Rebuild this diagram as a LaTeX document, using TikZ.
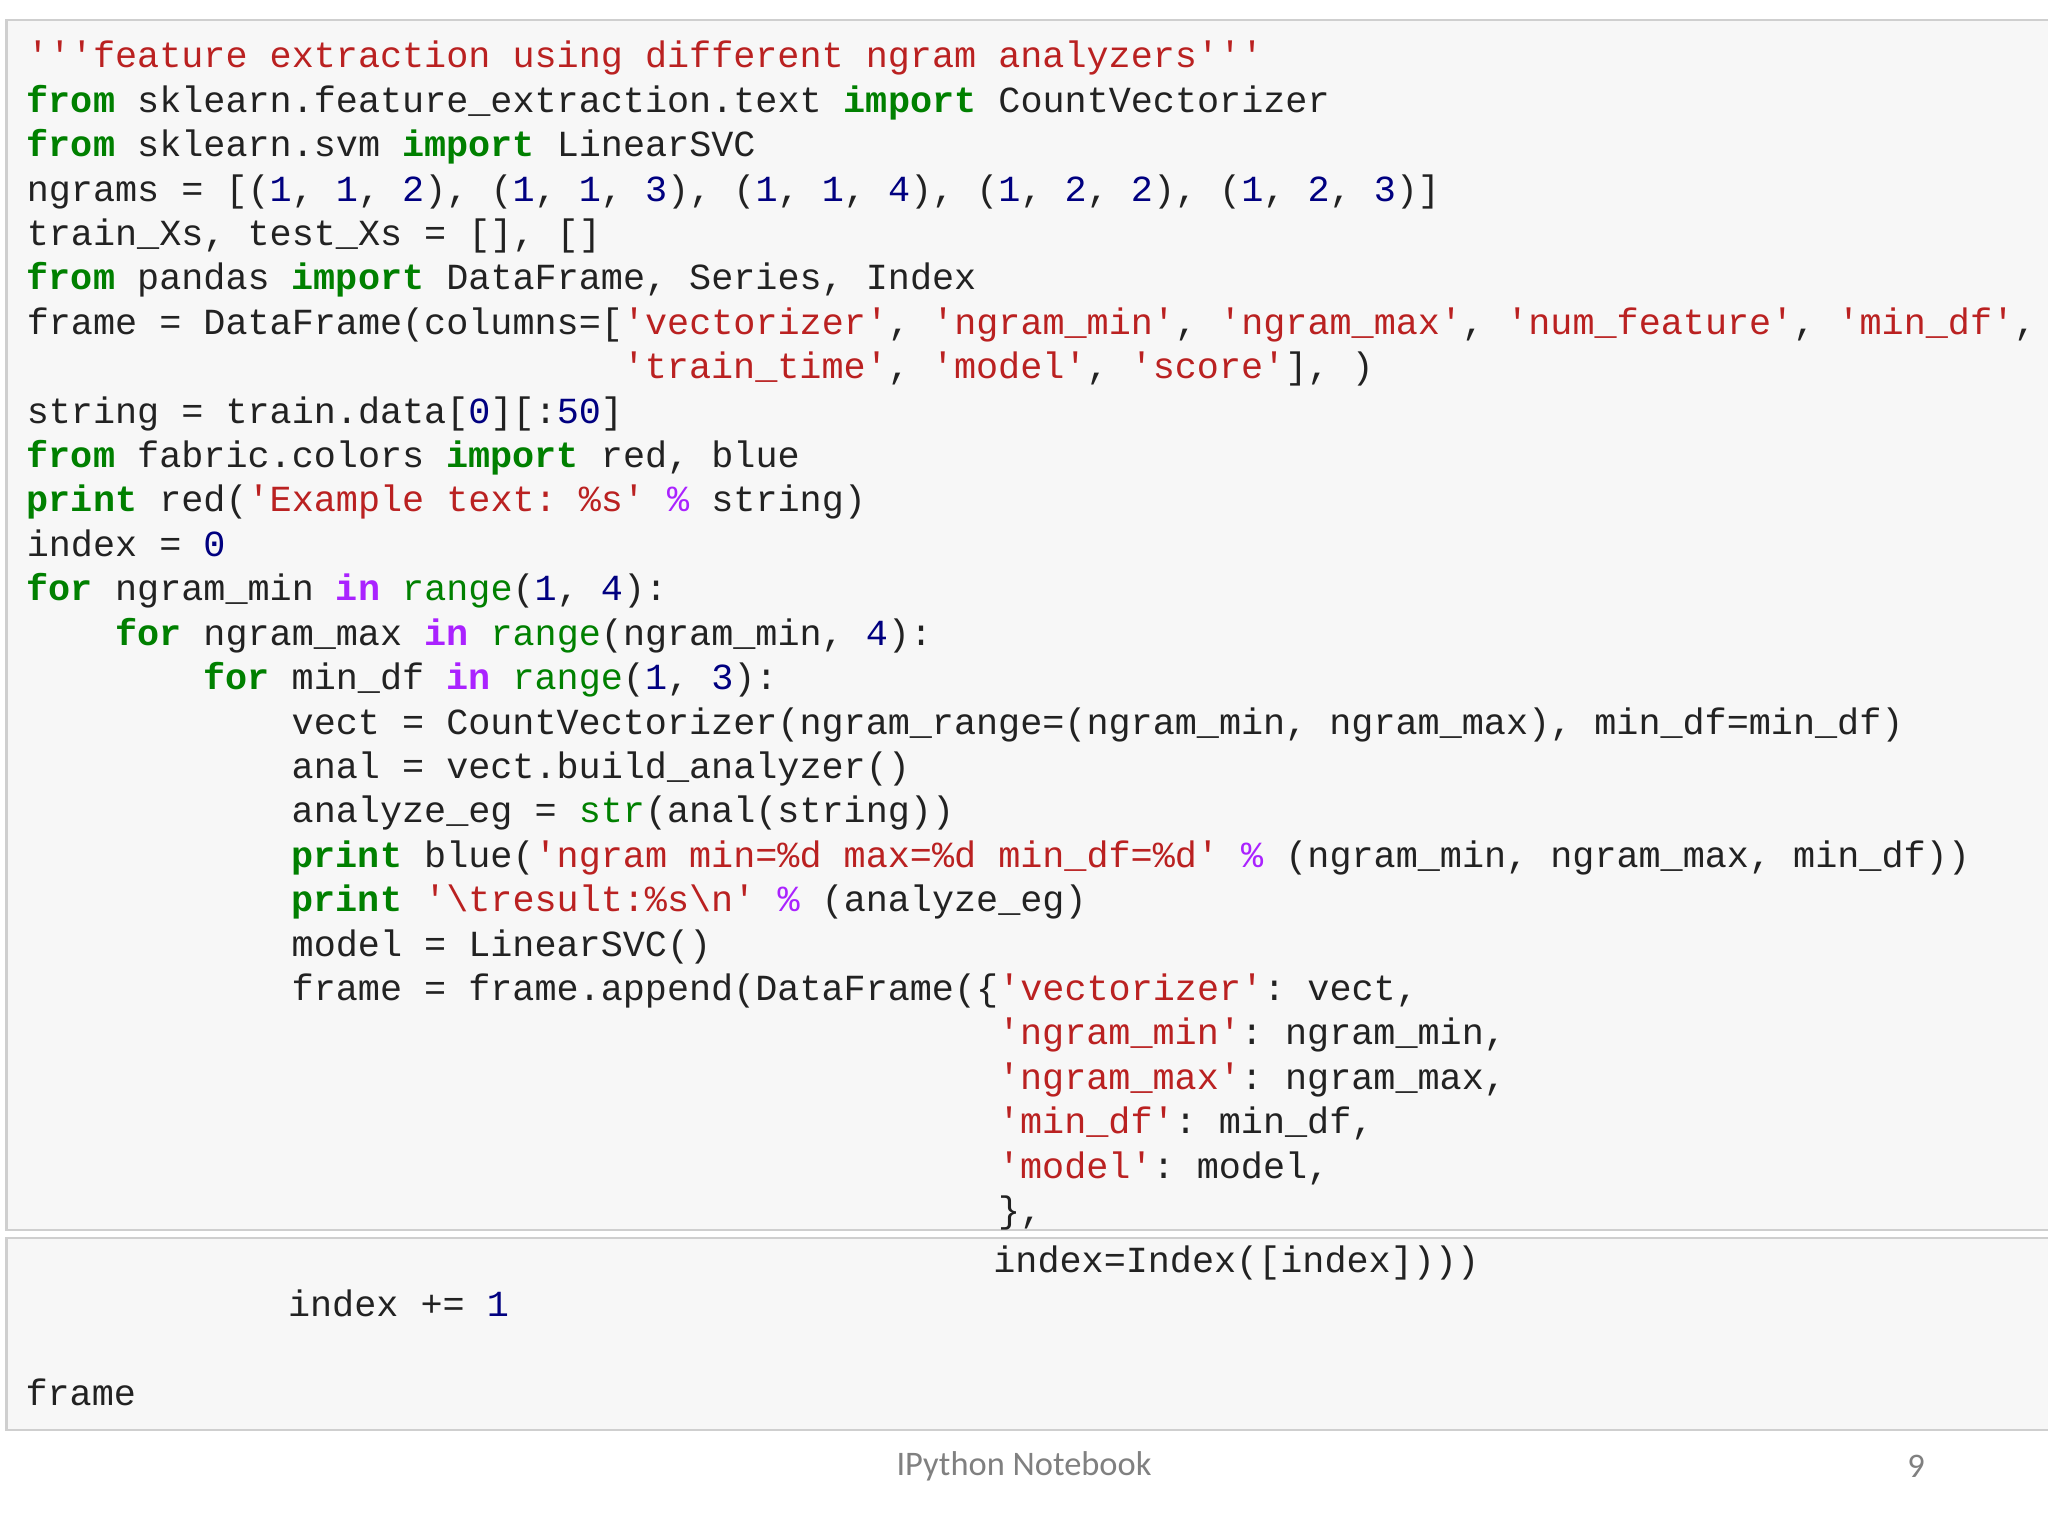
\documentclass[tikz,border=0pt]{standalone}
\usepackage{fontspec}
\setmonofont{Liberation Mono}
\newfontfamily\footfont{Carlito}
\definecolor{kwc}{HTML}{008000}
\definecolor{strc}{HTML}{BA2121}
\definecolor{numc}{HTML}{000080}
\definecolor{opc}{HTML}{AA22FF}
\definecolor{cellbg}{HTML}{F7F7F7}
\definecolor{cellbd}{HTML}{CFCFCF}
\definecolor{codetext}{HTML}{222222}
\newcommand\K[1]{\textcolor{kwc}{\bfseries #1}}
\newcommand\B[1]{\textcolor{kwc}{#1}}
\newcommand\Sq[1]{\textcolor{strc}{#1}}
\newcommand\N[1]{\textcolor{numc}{#1}}
\newcommand\OP[1]{\textcolor{opc}{#1}}
\newcommand\OK[1]{\textcolor{opc}{\bfseries #1}}
\def\q{\char39 }
\begin{document}
\begin{tikzpicture}[x=0.01306cm,y=-0.01306cm,
  codeline/.style={anchor=base west,inner sep=0pt,text=codetext,font=\ttfamily\fontsize{10.47}{12}\selectfont}]
\useasboundingbox (0,0) rectangle (1568,1176);
\fill[white] (0,0) rectangle (1568,1176);
\filldraw[fill=cellbg,draw=cellbd,line width=0.6pt] (5,15) rectangle (1575,942);
\filldraw[fill=cellbg,draw=cellbd,line width=0.6pt] (5,948) rectangle (1575,1095);
\def\cw{16.9}
\newcommand\Ln[3]{\node[codeline] (l#1) at ({20+#2*\cw},{52+34*#1}) {#3};}
\Ln{0}{0}{\Sq{\q\q\q feature extraction using different ngram analyzers\q\q\q}}
\Ln{1}{0}{\K{from} sklearn.feature\_extraction.text \K{import} CountVectorizer}
\Ln{2}{0}{\K{from} sklearn.svm \K{import} LinearSVC}
\Ln{3}{0}{ngrams = [(\N{1}, \N{1}, \N{2}), (\N{1}, \N{1}, \N{3}), (\N{1}, \N{1}, \N{4}), (\N{1}, \N{2}, \N{2}), (\N{1}, \N{2}, \N{3})]}
\Ln{4}{0}{train\_Xs, test\_Xs = [], []}
\Ln{5}{0}{\K{from} pandas \K{import} DataFrame, Series, Index}
\Ln{6}{0}{frame = DataFrame(columns=[\Sq{\q vectorizer\q}, \Sq{\q ngram\_min\q}, \Sq{\q ngram\_max\q}, \Sq{\q num\_feature\q}, \Sq{\q min\_df\q},}
\Ln{7}{27}{\Sq{\q train\_time\q}, \Sq{\q model\q}, \Sq{\q score\q}], )}
\Ln{8}{0}{string = train.data[\N{0}][:\N{50}]}
\Ln{9}{0}{\K{from} fabric.colors \K{import} red, blue}
\Ln{10}{0}{\K{print} red(\Sq{\q Example text: \%s\q} \OP{\%} string)}
\Ln{11}{0}{index = \N{0}}
\Ln{12}{0}{\K{for} ngram\_min \OK{in} \B{range}(\N{1}, \N{4}):}
\Ln{13}{4}{\K{for} ngram\_max \OK{in} \B{range}(ngram\_min, \N{4}):}
\Ln{14}{8}{\K{for} min\_df \OK{in} \B{range}(\N{1}, \N{3}):}
\Ln{15}{12}{vect = CountVectorizer(ngram\_range=(ngram\_min, ngram\_max), min\_df=min\_df)}
\Ln{16}{12}{anal = vect.build\_analyzer()}
\Ln{17}{12}{analyze\_eg = \B{str}(anal(string))}
\Ln{18}{12}{\K{print} blue(\Sq{\q ngram min=\%d max=\%d min\_df=\%d\q} \OP{\%} (ngram\_min, ngram\_max, min\_df))}
\Ln{19}{12}{\K{print} \Sq{\q\textbackslash tresult:\%s\textbackslash n\q} \OP{\%} (analyze\_eg)}
\Ln{20}{12}{model = LinearSVC()}
\Ln{21}{12}{frame = frame.append(DataFrame(\{\Sq{\q vectorizer\q}: vect,}
\Ln{22}{44}{\Sq{\q ngram\_min\q}: ngram\_min,}
\Ln{23}{44}{\Sq{\q ngram\_max\q}: ngram\_max,}
\Ln{24}{44}{\Sq{\q min\_df\q}: min\_df,}
\Ln{25}{44}{\Sq{\q model\q}: model,}
\Ln{26}{44}{\},}
\node[codeline] (l27) at (760,974) {index=Index([index])))};
\node[codeline] (l28) at (220,1008) {index += \N{1}};
\node[codeline] (l30) at (19,1076) {frame};
\node[font=\footfont\fontsize{9.8}{12}\selectfont,text=gray] (foot) at (784,1123) {IPython Notebook};
\node[font=\footfont\fontsize{9.8}{12}\selectfont,text=gray] (page) at (1467,1123) {9};
\end{tikzpicture}
\end{document}
